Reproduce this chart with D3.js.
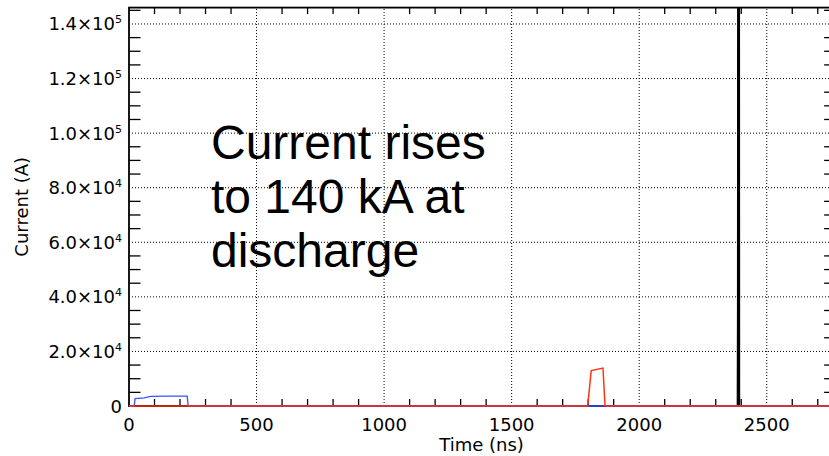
<!DOCTYPE html>
<html>
<head>
<meta charset="utf-8">
<script src="https://cdn.jsdelivr.net/npm/d3@7"></script>
<style>
  body { margin: 0; background: #fff; }
  svg { display: block; }
  text { font-family: "DejaVu Sans", sans-serif; fill: #000; }
</style>
</head>
<body>
<div id="chart"></div>
<script>
// time range and axis ticks
const xDomain = [0, 2770];
const yDomain = [0, 146000];
const xMajor = [0, 500, 1000, 1500, 2000, 2500];
const yMajor = [0, 20000, 40000, 60000, 80000, 100000, 120000, 140000];
const yMantissa = ['0', '2.0', '4.0', '6.0', '8.0', '1.0', '1.2', '1.4'];
const yExponent = ['', '4', '4', '4', '4', '5', '5', '5'];

// series: [time ns, current A]
const blueSeries = [[0, 0], [20, 0], [24, 2700], [60, 3000], [85, 3500], [150, 3600], [228, 3600], [232, 0], [2770, 0]];
const redSeries = [[0, 0], [1798, 0], [1812, 13000], [1858, 13900], [1866, 0], [1874, 0], [2770, 0]];
const blackSeries = [[0, 0], [2386, 0], [2387, 36000], [2388, 260000], [2391, 260000], [2392, 0], [2770, 0]];

const noteLines = ['Current rises', 'to 140 kA at', 'discharge'];

const width = 829, height = 456;
const margin = { left: 129, top: 7.6, bottom: 50 };

const x = d3.scaleLinear().domain(xDomain).range([margin.left, margin.left + 2770 * 0.2551]);
const y = d3.scaleLinear().domain(yDomain).range([height - margin.bottom, margin.top]);

const svg = d3.select('#chart').append('svg')
    .attr('width', width)
    .attr('height', height);

const [x0, x1] = x.range();
const [y0, y1] = y.range();

// clip at the top, let the zero line sit on the bottom axis
svg.append('clipPath').attr('id', 'plot-clip')
  .append('rect')
    .attr('x', x0).attr('y', y1)
    .attr('width', x1 - x0).attr('height', y0 - y1 + 3);

// dotted grid at major ticks
const grid = svg.append('g')
    .attr('stroke', '#000')
    .attr('stroke-width', 1)
    .attr('stroke-dasharray', '1,2');

grid.selectAll('line.vx')
  .data(xMajor.filter(d => d > 0))
  .enter().append('line')
    .attr('x1', d => x(d)).attr('x2', d => x(d))
    .attr('y1', y0).attr('y2', y1);

grid.selectAll('line.hy')
  .data(yMajor.filter(d => d > 0))
  .enter().append('line')
    .attr('x1', x0).attr('x2', x1)
    .attr('y1', d => y(d)).attr('y2', d => y(d));

// minor ticks
const xMinor = d3.range(0, 2771, 100).filter(d => d % 500 !== 0);
const yMinor = d3.range(0, 146001, 5000).filter(d => d % 20000 !== 0);
const ticks = svg.append('g').attr('stroke', '#000').attr('stroke-width', 1.3);

ticks.selectAll('line.xb')
  .data(xMinor)
  .enter().append('line')
    .attr('x1', d => x(d)).attr('x2', d => x(d))
    .attr('y1', y0).attr('y2', y0 - 7);

ticks.selectAll('line.xt')
  .data(xMinor)
  .enter().append('line')
    .attr('x1', d => x(d)).attr('x2', d => x(d))
    .attr('y1', y1).attr('y2', y1 + 6.5);

ticks.selectAll('line.yl')
  .data(yMinor)
  .enter().append('line')
    .attr('x1', x0).attr('x2', x0 + 11.5)
    .attr('y1', d => y(d)).attr('y2', d => y(d));

ticks.selectAll('line.yr')
  .data(yMinor)
  .enter().append('line')
    .attr('x1', x1).attr('x2', x1 - 11.5)
    .attr('y1', d => y(d)).attr('y2', d => y(d));

// frame
svg.append('rect')
    .attr('x', x0).attr('y', y1)
    .attr('width', x1 - x0).attr('height', y0 - y1)
    .attr('fill', 'none')
    .attr('stroke', '#000')
    .attr('stroke-width', 1.8);

// series
const line = d3.line().x(d => x(d[0])).y(d => y(d[1]));
const plot = svg.append('g').attr('clip-path', 'url(#plot-clip)');

plot.append('path').datum(blackSeries)
    .attr('fill', 'none').attr('stroke', '#000').attr('stroke-width', 2)
    .attr('d', line);
plot.append('path').datum(blueSeries)
    .attr('fill', 'none').attr('stroke', '#3355ff').attr('stroke-width', 1.3)
    .attr('d', line);
plot.append('path').datum(redSeries)
    .attr('fill', 'none').attr('stroke', '#ff3311').attr('stroke-width', 1.5)
    .attr('d', line);

// x tick labels
svg.append('g').selectAll('text')
  .data(xMajor)
  .enter().append('text')
    .attr('x', d => x(d))
    .attr('y', y0 + 25)
    .attr('text-anchor', 'middle')
    .style('font-size', '18px')
    .text(d => d);

// y tick labels with superscript exponent
const yl = svg.append('g').selectAll('text')
  .data(yMajor)
  .enter().append('text')
    .attr('x', x0 - 7)
    .attr('y', d => y(d) + 6.5)
    .attr('text-anchor', 'end')
    .style('font-size', '18px');

yl.append('tspan').text((d, i) => yExponent[i] ? yMantissa[i] + '×10' : yMantissa[i]);
yl.append('tspan')
    .attr('dy', -7)
    .style('font-size', '11px')
    .text((d, i) => yExponent[i]);

// axis titles
svg.append('text')
    .attr('x', (x0 + 836) / 2 - 1)
    .attr('y', 451)
    .attr('text-anchor', 'middle')
    .style('font-size', '18px')
    .text('Time (ns)');

svg.append('text')
    .attr('transform', `translate(28, ${(y0 + y1) / 2}) rotate(-90)`)
    .attr('text-anchor', 'middle')
    .style('font-size', '18px')
    .text('Current (A)');

// annotation
svg.append('g').selectAll('text')
  .data(noteLines)
  .enter().append('text')
    .attr('x', 211)
    .attr('y', (d, i) => 159 + i * 54)
    .style('font-family', '"Liberation Sans", Arial, sans-serif')
    .style('font-size', '48px')
    .text(d => d);
</script>
</body>
</html>
